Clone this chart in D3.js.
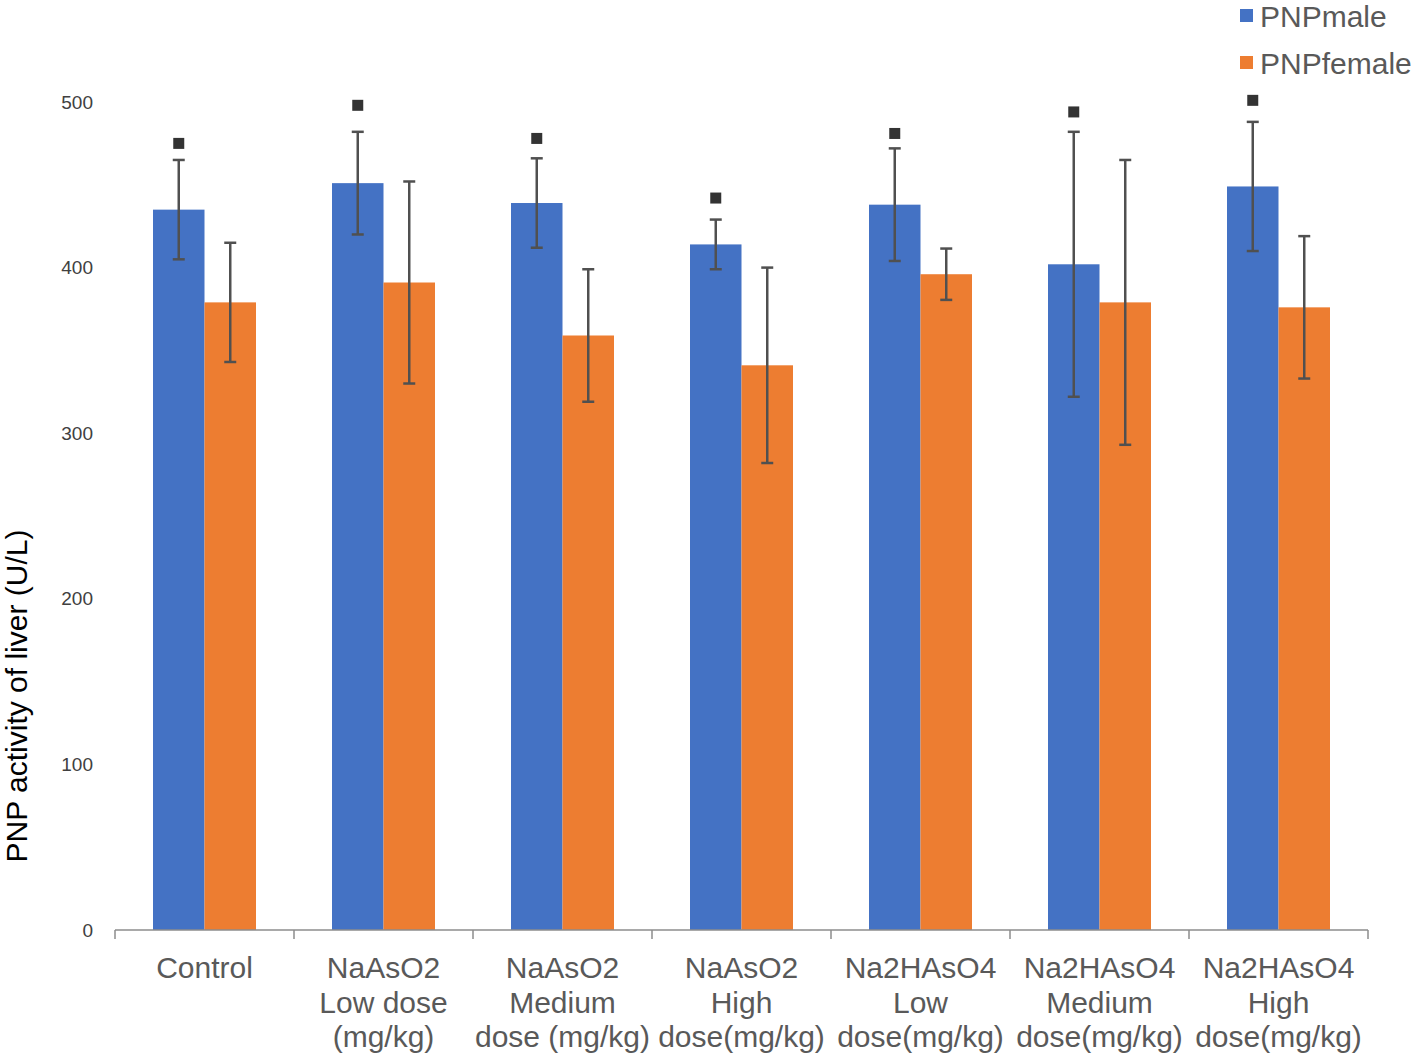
<!DOCTYPE html>
<html>
<head>
<meta charset="utf-8">
<script src="https://cdn.jsdelivr.net/npm/d3@7"></script>
<style>
  html, body { margin: 0; padding: 0; background: #fff; }
  svg { display: block; font-family: "Liberation Sans", Arial, sans-serif; }
</style>
</head>
<body>
<svg id="chart" width="1416" height="1057"></svg>
<script>
const categories = [
  ["Control"],
  ["NaAsO2", "Low dose", "(mg/kg)"],
  ["NaAsO2", "Medium", "dose (mg/kg)"],
  ["NaAsO2", "High", "dose(mg/kg)"],
  ["Na2HAsO4", "Low", "dose(mg/kg)"],
  ["Na2HAsO4", "Medium", "dose(mg/kg)"],
  ["Na2HAsO4", "High", "dose(mg/kg)"]
];
const seriesNames = ["PNPmale", "PNPfemale"];
const maleValues   = [435, 451, 439, 414, 438, 402, 449];
const maleErrors   = [30, 31, 27, 15, 34, 80, 39];
const femaleValues = [379, 391, 359, 341, 396, 379, 376];
const femaleErrors = [36, 61, 40, 59, 15.5, 86, 43];
const markerValues = [475, 498, 478, 442, 481, 494, 501];
const yTicks = [0, 100, 200, 300, 400, 500];
const colors = ["#4472C4", "#ED7D31"];

(function () {
const svg = d3.select("#chart");
const mLeft = 115, mRight = 1368, mTop = 102, mBottom = 930;

const y = d3.scaleLinear().domain([0, 500]).range([mBottom, mTop]);
const catIdx = categories.map((d, i) => i);
const x0 = d3.scaleBand().domain(catIdx).range([mLeft, mRight]).paddingInner(0).paddingOuter(0);
const x1 = d3.scaleBand().domain(seriesNames).range([0, x0.bandwidth()]).paddingInner(0).paddingOuter(0.738);

const data = catIdx.map(i => ({
  i,
  vals: [
    {s: seriesNames[0], v: maleValues[i], e: maleErrors[i], c: colors[0]},
    {s: seriesNames[1], v: femaleValues[i], e: femaleErrors[i], c: colors[1]}
  ]
}));

// bars
const g = svg.append("g");
const groups = g.selectAll("g.cat").data(data).enter().append("g")
  .attr("transform", d => `translate(${x0(d.i)},0)`);
groups.selectAll("rect.bar").data(d => d.vals).enter().append("rect")
  .attr("class", "bar")
  .attr("x", d => x1(d.s))
  .attr("width", x1.bandwidth())
  .attr("y", d => y(d.v))
  .attr("height", d => y(0) - y(d.v))
  .attr("fill", d => d.c);

// error bars
const eb = groups.selectAll("g.err").data(d => d.vals).enter().append("g")
  .attr("class", "err")
  .attr("stroke", "#505050").attr("stroke-width", 2.5);
eb.append("line")
  .attr("x1", d => x1(d.s) + x1.bandwidth() / 2)
  .attr("x2", d => x1(d.s) + x1.bandwidth() / 2)
  .attr("y1", d => y(d.v + d.e))
  .attr("y2", d => y(d.v - d.e));
[1, -1].forEach(sgn => {
  eb.append("line")
    .attr("x1", d => x1(d.s) + x1.bandwidth() / 2 - 6)
    .attr("x2", d => x1(d.s) + x1.bandwidth() / 2 + 6)
    .attr("y1", d => y(d.v + sgn * d.e))
    .attr("y2", d => y(d.v + sgn * d.e));
});

// markers
groups.append("rect")
  .attr("x", d => x1(seriesNames[0]) + x1.bandwidth() / 2 - 5.5)
  .attr("y", d => y(markerValues[d.i]) - 5.5)
  .attr("width", 11).attr("height", 11)
  .attr("fill", "#333");

// x axis
const xAxis = svg.append("g");
xAxis.append("line").attr("x1", mLeft).attr("x2", mRight).attr("y1", mBottom).attr("y2", mBottom)
  .attr("stroke", "#8c8c8c").attr("stroke-width", 1.5);
const bounds = catIdx.map(i => x0(i)).concat([mRight]);
xAxis.selectAll("line.tick").data(bounds).enter().append("line")
  .attr("class", "tick")
  .attr("x1", d => d).attr("x2", d => d).attr("y1", mBottom).attr("y2", mBottom + 9)
  .attr("stroke", "#8c8c8c").attr("stroke-width", 1.5);

const labels = svg.append("g").selectAll("text").data(data).enter().append("text")
  .attr("text-anchor", "middle")
  .attr("font-size", 30)
  .attr("fill", "#595959");
labels.each(function(d) {
  const t = d3.select(this);
  categories[d.i].forEach((line, k) => {
    t.append("tspan").attr("x", x0(d.i) + x0.bandwidth() / 2).attr("y", 978 + k * 34.5).text(line);
  });
});

// y tick labels
svg.append("g").selectAll("text").data(yTicks).enter().append("text")
  .attr("x", 93).attr("y", d => y(d) + 6.5)
  .attr("text-anchor", "end")
  .attr("font-size", 19)
  .attr("fill", "#404040")
  .text(d => d);

// y title
svg.append("text")
  .attr("transform", "translate(27,696) rotate(-90)")
  .attr("text-anchor", "middle")
  .attr("font-size", 30)
  .attr("fill", "#000")
  .text("PNP activity of liver (U/L)");

// legend
const lg = svg.append("g").selectAll("g").data(seriesNames).enter().append("g")
  .attr("transform", (d, i) => `translate(1240,${16 + i * 47})`);
lg.append("rect").attr("x", 0).attr("y", -7).attr("width", 13).attr("height", 13)
  .attr("fill", (d, i) => colors[i]);
lg.append("text").attr("x", 20).attr("y", 11).attr("font-size", 30).attr("fill", "#595959").text(d => d);
})();
</script>
</body>
</html>
